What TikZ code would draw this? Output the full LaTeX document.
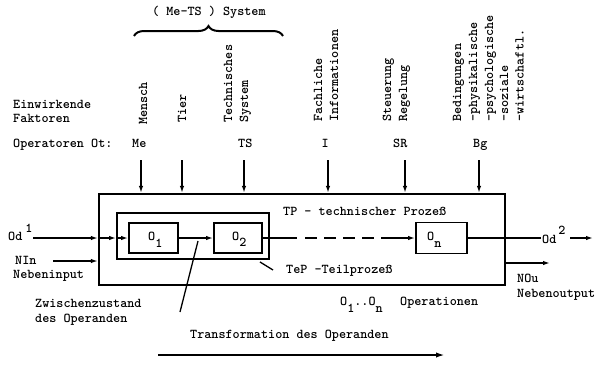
\documentclass[tikz,border=0pt]{standalone}
\usetikzlibrary{arrows.meta,decorations.pathreplacing,calc}
\newcommand\twfont{\fontsize{13.5}{16}\selectfont\ttfamily\bfseries}
\begin{document}
\begin{tikzpicture}[x=1pt,y=-1pt,
  txt/.style={inner sep=0pt, anchor=base west, font=\twfont},
  vtxt/.style={txt, rotate=90},
  box/.style={draw, line width=1.9pt, inner sep=0pt},
  flow/.style={line width=1.6pt, -{Latex[length=7pt,width=4.5pt]}},
  plain/.style={line width=1.6pt}]
\useasboundingbox (0,0) rectangle (596,365);

% process boxes
\node[box, line width=2.3pt, minimum width=406pt, minimum height=91pt] (outer) at (302,239.5) {};
\node[box, minimum width=152pt, minimum height=46pt] (tep) at (193,236) {};
\node[box, minimum width=49pt, minimum height=30pt] (o1) at (153.5,238) {};
\node[box, minimum width=48pt, minimum height=30pt] (o2) at (238,238) {};
\node[box, minimum width=51pt, minimum height=31pt] (on) at (441.5,238) {};

% operation labels
\node[txt] (o1l) at (148,240) {O\raisebox{-7pt}{1}};
\node[txt] (o2l) at (232,240) {O\raisebox{-6pt}{2}};
\node[txt] (onl) at (427,240) {O\raisebox{-7pt}{n}};

% acting factors
\node[vtxt] (mensch) at (147,125) {Mensch};
\node[vtxt] (tier) at (186,123) {Tier};
\node[vtxt] (techn) at (232,123) {Technisches};
\node[vtxt] (syst) at (248,123) {System};
\node[vtxt] (fach) at (322,122) {Fachliche};
\node[vtxt] (info) at (338,122) {Informationen};
\node[vtxt] (steu) at (391,122) {Steuerung};
\node[vtxt] (rege) at (407,122) {Regelung};
\node[vtxt] (bed) at (461,122) {Bedingungen};
\node[vtxt] (phys) at (477,122) {-physikalische};
\node[vtxt] (psych) at (493,122) {-psychologische};
\node[vtxt] (soz) at (508,122) {-soziale};
\node[vtxt] (wirt) at (523.5,122) {-wirtschaftl.};

\node[txt] (sys) at (152,15) {( Me-TS ) System};
\draw[line width=2pt, decorate, decoration={brace, amplitude=10pt}] (134,36) -- (283,36);

\node[txt] (einw) at (13,108) {Einwirkende};
\node[txt] (fakt) at (13,122) {Faktoren};
\node[txt] (opot) at (13,147) {Operatoren Ot:};
\node[txt] (me) at (132,147) {Me};
\node[txt] (ts) at (238,147) {TS};
\node[txt] (inf) at (321.5,147) {I};
\node[txt] (sr) at (393,147) {SR};
\node[txt] (bg) at (473,147) {Bg};

% operators acting on the process
\foreach \name/\xx in {aMe/141, aTier/182, aTS/244, aI/328, aSR/405, aBg/479} {
  \coordinate (\name) at (\xx,160);
  \draw[flow] (\name) -- (\name |- outer.north);
}

% operand flow
\node[txt] (od1) at (8,240) {Od\hspace{3pt}\raisebox{8pt}{1}};
\coordinate (odin) at (33,238);
\draw[flow] (odin) -- (odin -| outer.west);
\draw[flow] (odin -| outer.west) -- (odin -| tep.west);
\draw[flow] (odin -| tep.west) -- (o1.west);
\draw[flow] (o1) -- (o2);
\coordinate (dashA) at (297,238);
\coordinate (dashB) at (305,238);
\coordinate (dashC) at (378,238);
\coordinate (dashD) at (381,238);
\draw[plain] (o2.east) -- (dashA);
\draw[plain, dash pattern=on 12pt off 7pt] (dashB) -- (dashC);
\draw[flow] (dashD) -- (on.west);
\coordinate (odend) at (541,238);
\draw[line width=1.3pt] (on.east) -- (odend);
\node[txt] (od2) at (542,243) {Od\hspace{2pt}\raisebox{9pt}{2}};
\coordinate (odoutA) at (570,238);
\coordinate (odoutB) at (593,238);
\draw[flow] (odoutA) -- (odoutB);

% side input and output
\node[txt] (nin) at (15,264) {NIn};
\node[txt] (nebin) at (13,278) {Nebeninput};
\coordinate (ninA) at (53,261);
\draw[flow] (ninA) -- (ninA -| outer.west);
\coordinate (nouA) at (550,263);
\draw[flow] (nouA -| outer.east) -- (nouA);
\node[txt] (nou) at (517,282) {NOu};
\node[txt] (nebout) at (517,297) {Nebenoutput};

% process labels
\node[txt] (tp) at (283,215) {TP - technischer Prozeß};
\node[txt] (tepl) at (286,273) {TeP -Teilprozeß};
\coordinate (tepptr) at (273,270);
\draw[line width=1.3pt] ($(tep.south east)+(-10,2)$) -- (tepptr);

\node[txt] (ops) at (340,305) {O\raisebox{-7pt}{1}..O\raisebox{-7pt}{n}};
\node[txt] (opsl) at (400,305) {Operationen};

\node[txt] (zw) at (35,307) {Zwischenzustand};
\node[txt] (zw2) at (35,322) {des Operanden};
\coordinate (zwA) at (180,312);
\coordinate (zwB) at (198,241);
\draw[line width=1.3pt] (zwA) -- (zwB);

\node[txt] (trans) at (190,338) {Transformation des Operanden};
\coordinate (trA) at (158,355);
\coordinate (trB) at (447,355);
\draw[line width=2.3pt, -{Latex[length=11pt,width=5pt]}] (trA) -- (trB);
\end{tikzpicture}
\end{document}
